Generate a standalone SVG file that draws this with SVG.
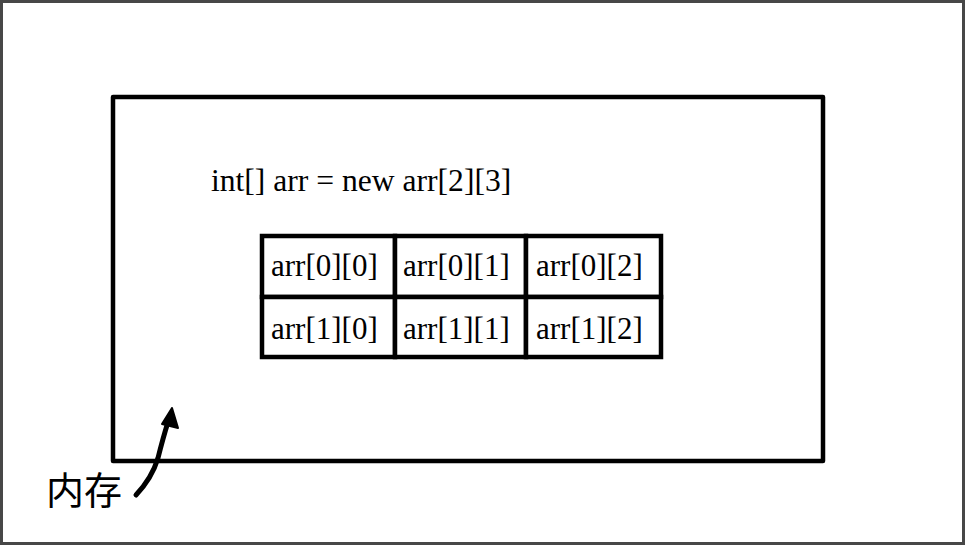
<svg xmlns="http://www.w3.org/2000/svg" width="965" height="545" viewBox="0 0 965 545">
  <style>
    .frame { fill: #ffffff; stroke: #474747; stroke-width: 3; }
    .box { fill: none; stroke: #000; stroke-width: 4.5; stroke-linejoin: round; }
    .cell { fill: #ffffff; stroke: #000; stroke-width: 4.5; }
    .code { font-family: "Liberation Serif", "Times New Roman", serif; font-size: 31px; fill: #000; }
    .title { font-size: 31.6px; }
    .label { font-family: "Noto Sans CJK SC", "Noto Sans", sans-serif; font-size: 38px; fill: #000; }
    .conn { fill: none; stroke: #000; stroke-width: 5; stroke-linecap: round; }
  </style>
  <rect class="frame" x="1.5" y="1.5" width="962" height="542"/>

  <g id="memory">
    <rect class="box" x="113" y="97" width="710" height="364"/>
  </g>

  <g id="declaration">
    <text class="code title" x="211" y="191">int[] arr = new arr[2][3]</text>
  </g>

  <g id="array-grid">
    <g id="cell-0-0">
      <rect class="cell" x="262" y="236" width="133" height="61"/>
      <text class="code" x="271" y="276">arr[0][0]</text>
    </g>
    <g id="cell-0-1">
      <rect class="cell" x="395" y="236" width="131" height="61"/>
      <text class="code" x="403" y="276">arr[0][1]</text>
    </g>
    <g id="cell-0-2">
      <rect class="cell" x="526" y="236" width="135" height="61"/>
      <text class="code" x="536" y="276">arr[0][2]</text>
    </g>
    <g id="cell-1-0">
      <rect class="cell" x="262" y="297" width="133" height="60"/>
      <text class="code" x="271" y="339">arr[1][0]</text>
    </g>
    <g id="cell-1-1">
      <rect class="cell" x="395" y="297" width="131" height="60"/>
      <text class="code" x="403" y="339">arr[1][1]</text>
    </g>
    <g id="cell-1-2">
      <rect class="cell" x="526" y="297" width="135" height="60"/>
      <text class="code" x="536" y="339">arr[1][2]</text>
    </g>
  </g>

  <g id="label-memory">
    <text class="label" x="46" y="504">内存</text>
  </g>

  <g id="connectors">
    <path class="conn" d="M136,495 Q152,478 158,458 Q163,438 168,422"/>
    <polygon points="172,408 162,424 178,428" fill="#000" stroke="#000" stroke-width="2" stroke-linejoin="round"/>
  </g>
</svg>
